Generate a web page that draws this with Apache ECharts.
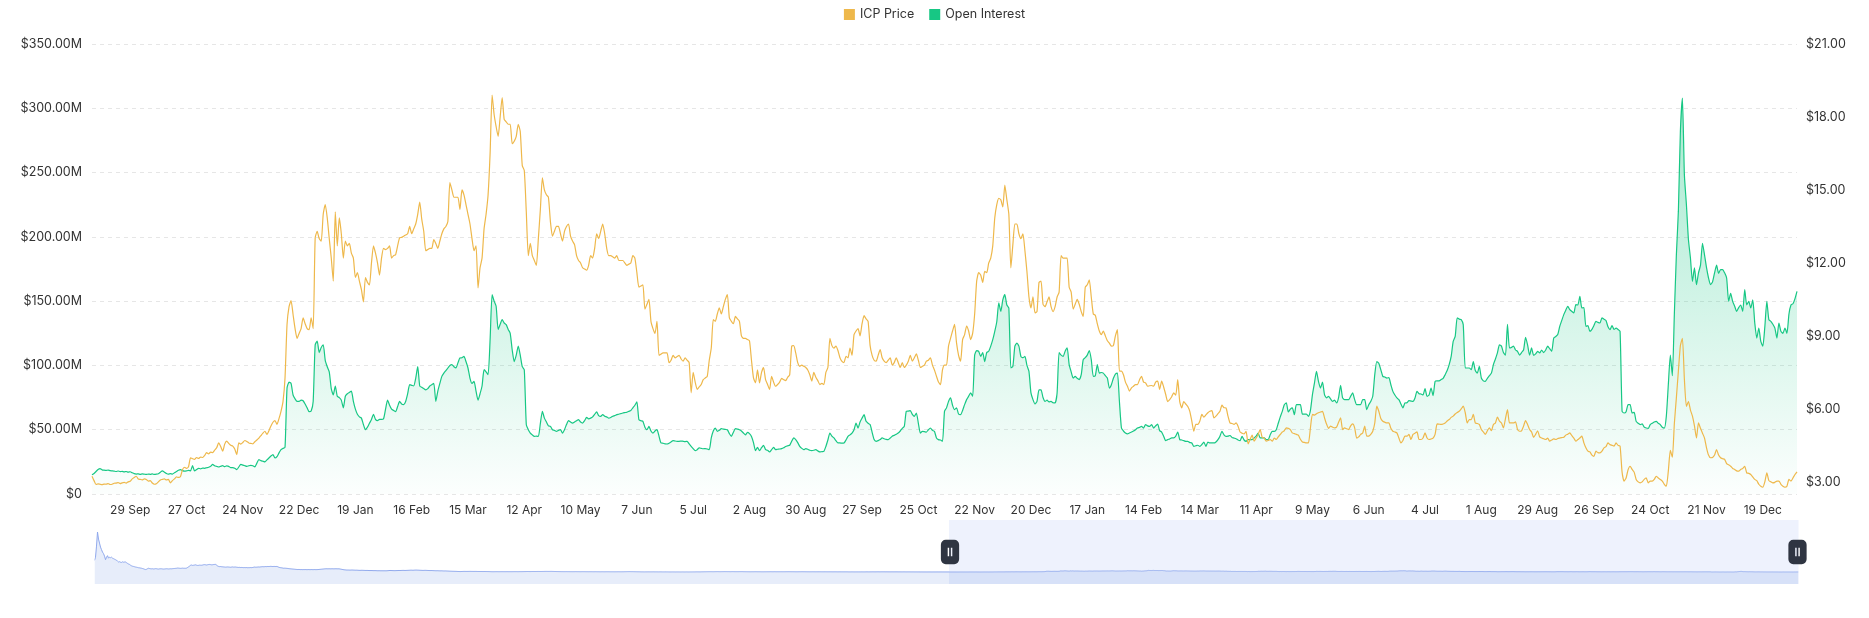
<!DOCTYPE html>
<html><head><meta charset="utf-8">
<script src="https://cdn.jsdelivr.net/npm/echarts@6/dist/echarts.min.js"></script>
<style>html,body{margin:0;padding:0;background:#fff}#c{width:1869px;height:618px}</style>
</head><body><div id="c"></div><script>
const seriesNames = ['ICP Price', 'Open Interest'];
const firstDate = [2021, 4, 10]; // 10 May 2021 (UTC, month 0-based)
const firstLabelDate = '2023-09-29';
const labelStepDays = 28;
const monthNames = ['Jan','Feb','Mar','Apr','May','Jun','Jul','Aug','Sep','Oct','Nov','Dec'];
const leftAxisMax = 350, leftAxisStep = 50;
const rightTickValues = [3, 6, 9, 12, 15, 18, 21];

// ICP price (USD), 10 May 2021 - 9 Sep 2023 (only seen in the zoom slider)
const priceEarly = [
118,150,260,400,330,290,250,225,200,185,
160,125,150,165,140,150,145,150,140,135,
130,125,120,110,102,105,100,98,104,100,
102,102,95,88,82,78,70,64,60,58,
55,52,50,48,45,44,42,40,37,34,
30,27,30,36,40,37,35,34,35,33,
34,36,35,33,32,34,35,34.5,33,32,
33,34,35,34,33,34,35,34.5,36,37,
38,39,40,42,41,40,39,40,41,40,
40,40,42,48,55,62,70,72,68,70,
72,74,70,68,69,71,70,70,72,75,
76,74,72,75,77,78,76,74,75,77,
78,78,70,62,58,56,57,55,54,53,
52,51,52,53,52,51,50,52,53,51,
52,52,50,49,48,49,47,48,47,46,
47,46,47,45,46,46,47,46,48,50,
52,50,51,52,53,52,54,55,56,55,
56,57,56,58,57,58,59,58,57,58,
58,57,58,55,50,47,45,44,42,40,
41,40,39,38,36,35,34,33,32,31,
30,29,28,27,28,27,26.5,27,26,27,
26.5,27,26,26.5,27,26,26.5,27,26,26.5,
27,26,26.5,27,28,29,30,31,32,33,
34,34.5,35,34,35,34.5,34,35,34.5,34,
34.5,35,34.5,34,34.5,33,31,29,27,25,
24,23,22,22.5,22,21.5,22,22.5,22,21.5,
21,20.5,21,20,19.5,19,19.5,20,19.5,19,
18.5,18,18.5,18,17.5,17,17.5,17,16.5,16,
16.5,16,15.5,15,15.5,15,14.8,15,14.6,14.8,
14.6,14.6,15,16,17,18,17.5,17,16.5,16,
16,16.5,17,17.5,18,17.5,18,18.5,19,18.5,
18,18.5,19,19.5,20,20.5,21,20.5,20,21,
21.5,22,21.5,21,20.5,20,19.5,19,18.5,19,
19.5,19,18.5,18,17.5,17,17.5,17,16.5,16,
15.5,15,15.5,15,14.5,14,14.5,14,13.5,13,
13.5,13,12.5,12,11.5,11,10.5,10,9.8,9.5,
9.2,9.0,8.5,8.0,7.5,7.0,7.5,8.0,8.5,8.8,
8.6,8.4,8.5,8.6,8.8,9.0,8.8,8.6,8.4,8.5,
8.6,8.4,8.2,8.0,7.9,7.8,7.6,7.5,7.4,7.6,
7.5,7.4,7.2,7.0,6.8,6.2,5.8,5.6,5.5,5.6,
5.8,6.0,5.9,5.8,5.7,5.8,5.9,6.0,5.9,5.8,
5.9,6.0,6.1,6.0,5.9,5.8,5.9,6.0,6.1,6.2,
6.3,6.2,6.1,6.0,6.2,6.4,6.5,6.6,6.8,7.0,
7.2,7.4,7.6,7.5,7.3,7.2,7.4,7.6,7.8,7.7,
7.6,7.8,8.0,8.1,8.0,7.9,7.8,8.0,8.2,8.4,
8.6,8.8,8.6,8.4,8.6,8.8,8.7,8.5,8.3,8.0,
7.8,7.4,7.2,7.0,6.8,6.6,6.5,6.4,6.3,6.2,
6.3,6.4,6.3,6.2,6.1,6.0,5.9,5.8,5.9,6.0,
6.2,6.1,6.0,5.9,5.8,5.7,5.8,5.9,6.0,5.9,
5.8,5.7,5.6,5.5,5.6,5.7,5.6,5.5,5.4,5.5,
5.6,5.5,5.4,5.3,5.2,5.1,5.2,5.3,5.2,5.1,
5.2,5.3,5.4,5.3,5.2,5.1,5.0,5.1,5.0,4.9,
5.0,5.1,5.2,5.3,5.2,5.1,5.0,5.2,5.4,5.6,
5.8,6.0,6.2,6.4,6.6,6.5,6.3,6.2,6.0,5.8,
5.6,5.4,5.2,5.0,4.8,4.5,4.3,4.2,4.1,4.0,
4.1,4.2,4.3,4.4,4.3,4.2,4.3,4.4,4.5,4.4,
4.3,4.2,4.1,4.0,4.1,4.2,4.1,4.0,3.9,4.0,
4.1,4.0,3.9,3.8,3.7,3.6,3.7,3.8,3.7,3.6,
3.5,3.6,3.7,3.6,3.5,3.4,3.5,3.6,3.5,3.4,
3.5,3.6,3.5,3.4,3.5,3.6,3.7,3.8,3.9,4.0,
4.1,4.2,4.3,4.2,4.1,4.3,4.5,4.8,5.0,5.2,
5.4,5.5,5.6,5.8,5.9,6.0,5.8,5.6,5.7,5.9,
6.1,6.3,6.4,6.2,6.0,5.9,6.1,6.3,6.5,6.6,
6.5,6.4,6.3,6.2,6.1,6.0,6.2,6.4,6.3,6.1,
6.0,5.9,6.0,6.1,6.3,6.5,6.4,6.2,6.0,5.8,
5.6,5.5,5.4,5.3,5.2,5.1,5.2,5.3,5.4,5.5,
5.6,5.5,5.4,5.3,5.2,5.0,4.9,4.8,4.9,5.0,
5.1,5.2,5.3,5.4,5.5,5.6,5.5,5.4,5.5,5.6,
5.5,5.4,5.3,5.2,5.3,5.4,5.3,5.2,5.3,5.4,
5.5,5.6,5.7,5.8,5.7,5.6,5.5,5.4,5.3,5.2,
5.1,5.0,5.1,5.2,5.3,5.4,5.5,5.6,5.5,5.4,
5.2,5.0,4.9,4.8,4.7,4.8,4.9,5.0,4.9,4.8,
4.7,4.8,4.9,5.0,4.9,4.8,4.7,4.6,4.7,4.8,
4.7,4.6,4.5,4.6,4.7,4.6,4.5,4.4,4.5,4.6,
4.5,4.4,4.3,4.4,4.5,4.4,4.3,4.2,4.3,4.4,
4.3,4.2,4.1,4.0,3.9,4.0,4.1,4.0,3.9,3.8,
3.9,4.0,3.9,3.8,3.9,4.0,4.1,4.0,3.9,4.0,
4.1,4.2,4.1,4.0,4.1,4.2,4.3,4.4,4.3,4.2,
4.3,4.4,4.5,4.4,4.3,4.4,4.5,4.6,4.5,4.4,
4.3,4.4,4.3,4.2,4.1,4.2,4.3,4.2,4.1,4.2,
4.3,4.2,4.1,4.0,4.1,4.0,3.9,4.0,4.1,4.0,
3.9,3.8,3.9,4.0,3.9,3.8,3.7,3.8,3.7,3.6,
3.7,3.6,3.5,3.6,3.5,3.4,3.5,3.4,3.3,3.4,
3.3,3.2,3.3,3.4,3.3,3.2,3.1,3.2,3.3,3.2,
3.3,3.4,3.3,3.2,3.3,3.4,3.3,3.2,3.3,3.2,
3.3,3.2,3.25
];

// ICP price (USD), 10 Sep 2023 - 5 Jan 2026 (main view)
const priceRecent = [
3.23,3.05,2.89,2.92,2.90,2.88,2.91,2.90,2.93,2.89,
2.90,2.94,2.95,2.97,2.93,2.96,2.98,2.95,3.00,3.02,
3.12,3.18,3.23,3.12,3.10,3.08,3.12,3.10,3.03,3.05,
2.95,2.90,2.92,3.00,3.08,3.10,3.12,3.08,3.10,2.96,
3.05,3.12,3.20,3.18,3.22,3.50,3.60,3.55,3.62,3.99,
3.95,3.92,4.00,3.96,4.02,4.00,4.08,4.20,4.15,4.22,
4.20,4.30,4.40,4.60,4.45,4.26,4.55,4.67,4.58,4.50,
4.47,4.35,4.12,4.60,4.55,4.62,4.70,4.66,4.60,4.58,
4.56,4.65,4.72,4.80,4.90,5.00,5.08,4.95,5.10,5.30,
5.45,5.52,5.36,5.60,5.90,6.30,7.27,9.47,10.20,10.45,
9.88,9.30,8.90,9.10,9.30,9.74,9.50,9.30,9.26,9.74,
9.30,13.03,13.30,13.00,12.90,14.00,14.40,13.85,13.00,12.20,
11.25,14.10,12.70,13.85,13.20,12.20,12.90,12.70,12.80,12.40,
12.20,11.40,11.60,11.25,10.90,10.40,11.40,11.20,11.10,12.00,
12.70,12.40,12.00,11.50,12.20,12.60,12.55,12.60,12.70,12.20,
12.30,12.34,12.70,13.03,13.05,13.10,13.15,13.20,13.50,13.20,
13.40,13.60,14.00,14.50,13.80,13.30,12.50,12.55,12.60,12.60,
12.96,12.80,12.60,12.90,13.20,13.40,13.50,13.70,15.30,15.00,
14.70,14.70,14.70,14.20,15.00,14.80,14.40,14.00,13.60,13.00,
12.50,12.70,10.97,11.80,12.20,13.40,14.00,14.80,16.50,18.90,
18.10,17.60,17.20,18.00,18.80,17.90,17.80,17.70,17.70,16.90,
17.00,17.20,17.70,17.40,16.00,15.80,14.10,12.30,12.80,12.30,
12.10,11.90,13.00,14.20,15.50,15.00,14.80,14.70,13.70,13.10,
13.30,13.50,13.50,13.20,12.90,13.30,13.50,13.60,13.10,12.90,
12.75,12.30,12.10,12.00,11.80,11.75,11.70,11.90,12.30,12.20,
12.60,13.20,13.00,13.30,13.60,13.20,12.60,12.30,12.30,12.25,
12.20,12.30,12.10,12.10,12.10,12.00,11.90,11.95,12.00,12.30,
12.20,11.60,11.00,11.05,11.10,10.10,10.30,10.50,9.60,9.30,
9.10,9.60,8.20,8.25,8.30,8.30,8.30,7.90,8.00,8.20,
8.10,8.15,8.20,8.05,7.96,8.10,8.00,7.90,6.66,7.50,
7.10,6.80,6.90,7.00,7.20,7.27,7.34,8.00,8.50,9.67,
9.60,9.90,10.15,9.90,10.20,10.50,10.70,9.74,9.60,9.50,
9.80,9.70,9.60,9.00,8.90,8.90,8.85,8.80,8.00,7.27,
7.07,7.60,7.07,7.50,7.70,7.20,7.00,6.80,7.34,7.10,
6.93,7.00,7.10,7.25,7.20,7.16,7.30,7.40,8.58,8.60,
8.30,7.90,7.75,7.80,7.75,7.70,7.60,7.40,7.14,7.50,
7.30,7.16,7.00,7.05,7.00,7.50,7.70,8.90,8.60,8.50,
8.58,8.40,8.10,7.95,7.90,8.16,8.10,8.50,8.20,9.05,
9.20,9.30,9.00,9.50,9.83,9.70,9.60,8.60,8.20,8.00,
7.96,8.20,8.44,8.10,7.96,7.90,8.00,8.10,7.80,7.90,
8.10,7.90,7.70,7.90,7.70,7.80,7.96,8.20,7.96,8.10,
8.26,8.00,7.70,7.75,7.80,7.96,8.00,8.10,7.80,7.60,
7.34,7.10,7.00,7.60,7.80,7.80,8.58,8.90,9.20,9.47,
8.70,8.20,7.96,8.85,9.05,9.40,9.20,8.85,9.10,9.90,
11.25,11.60,11.50,11.20,11.65,11.60,12.00,12.20,12.70,13.85,
14.40,14.65,14.60,14.30,15.20,14.60,14.00,11.80,12.75,13.60,
13.60,13.20,13.00,13.20,12.50,11.65,10.60,10.15,10.60,9.95,
10.00,11.20,11.25,10.30,10.20,10.40,10.60,10.20,10.00,10.20,
10.60,10.80,12.30,12.20,12.20,12.20,11.00,10.80,10.10,10.30,
10.50,10.30,10.00,9.80,11.00,11.10,11.30,10.60,9.90,9.85,
9.50,9.20,9.05,9.20,9.00,8.80,8.70,8.58,8.60,9.00,
9.26,7.55,7.55,7.40,7.10,6.93,6.73,6.86,6.93,7.00,
7.00,7.20,7.34,7.10,7.07,6.93,6.95,6.96,6.93,7.10,
7.14,6.80,7.14,6.90,6.60,6.30,6.38,6.50,6.66,6.56,
7.20,6.30,6.04,6.30,6.20,6.10,5.90,5.50,5.08,5.36,
5.36,5.50,5.77,5.66,5.75,5.84,5.90,5.93,5.63,5.70,
5.80,5.90,6.15,6.05,6.04,5.70,5.42,5.40,5.36,5.42,
5.29,5.05,5.00,4.97,5.08,4.56,4.74,4.92,4.67,4.80,
4.95,5.15,4.83,4.80,4.67,4.70,4.74,4.67,4.80,4.74,
4.85,4.95,5.05,5.10,5.22,5.20,5.15,5.01,4.98,4.95,
4.92,4.75,4.64,4.62,4.60,4.60,5.22,5.77,5.74,5.80,
5.84,5.87,5.90,5.63,5.38,5.20,5.29,5.25,5.22,5.25,
5.45,5.63,5.15,5.22,5.18,5.15,5.30,5.38,5.22,4.80,
4.85,4.95,5.01,5.29,4.88,4.88,4.95,5.08,5.42,6.11,
5.90,5.60,5.49,5.45,5.42,5.42,5.20,5.08,5.05,5.01,
4.80,4.60,4.70,4.88,4.88,4.95,4.74,4.95,5.00,5.05,
4.74,4.74,4.80,5.01,4.80,4.74,4.76,4.80,4.95,5.38,
5.37,5.36,5.38,5.42,5.50,5.56,5.65,5.70,5.79,5.85,
5.90,6.00,6.11,5.84,5.42,5.56,5.56,5.77,5.42,5.40,
5.36,5.15,5.05,4.95,5.10,5.22,5.10,5.36,5.42,5.66,
5.50,5.42,5.22,5.60,5.97,5.42,5.42,5.42,5.47,5.15,
5.08,5.10,5.29,5.52,5.36,5.15,5.05,4.83,4.95,5.10,
4.85,4.80,4.77,4.74,4.80,4.67,4.72,4.77,4.74,4.78,
4.80,4.82,4.83,4.92,4.96,5.01,4.90,4.80,4.67,4.74,
4.80,4.88,4.60,4.40,4.26,4.23,4.10,4.05,4.26,4.20,
4.19,4.26,4.40,4.45,4.60,4.53,4.50,4.47,4.60,4.50,
4.47,3.40,3.03,3.16,3.50,3.64,3.51,3.40,3.10,3.00,
2.96,3.00,3.10,3.16,2.96,3.03,3.03,3.10,3.23,3.16,
3.10,3.03,2.90,2.82,3.44,4.29,4.01,5.40,6.45,7.55,
8.60,8.90,7.20,6.10,6.30,5.95,5.70,5.30,4.80,5.42,
5.20,5.00,4.80,4.40,4.10,3.99,4.00,4.10,4.33,4.10,
3.99,3.95,3.92,3.75,3.70,3.64,3.55,3.51,3.45,3.44,
3.51,3.55,3.64,3.37,3.35,3.30,3.20,3.10,3.05,2.90,
2.82,2.78,3.00,3.37,3.05,3.00,2.96,2.98,3.03,3.03,
2.90,2.82,2.78,2.82,3.10,3.03,3.16,3.30,3.41
];

// Open interest (USD millions), 10 Sep 2023 - 5 Jan 2026
const openInterestRecent = [
15.0,16.0,17.5,19.0,19.7,18.8,18.5,18.3,18.6,18.2,
18.0,17.8,17.5,17.9,17.4,17.6,17.2,17.5,17.0,17.3,
16.5,15.8,15.5,15.7,15.3,15.6,15.4,15.2,15.5,15.3,
15.6,15.2,15.4,15.8,17.0,18.0,17.0,16.0,15.5,15.8,
15.5,16.5,17.5,18.5,19.0,18.2,17.8,18.0,18.3,18.0,
22.0,18.0,19.0,20.0,19.6,20.2,20.0,20.4,20.8,21.5,
23.0,22.0,21.5,21.0,21.5,22.0,21.3,21.8,21.5,20.5,
20.5,20.0,19.0,21.0,23.0,22.5,22.0,21.5,22.0,22.3,
22.0,21.0,24.0,26.7,26.0,25.5,25.0,26.5,28.0,29.5,
30.6,28.0,29.0,32.0,34.5,35.5,36.3,82.4,87.0,86.0,
77.0,74.0,72.0,72.0,73.0,72.5,70.0,67.0,64.0,64.5,
72.0,116.0,119.0,110.0,114.0,116.0,104.0,99.0,95.0,82.0,
77.0,84.0,76.0,75.0,73.0,67.0,76.0,78.0,79.0,80.0,
72.0,66.0,62.0,60.0,59.0,54.0,50.0,52.0,55.0,58.0,
62.0,58.0,57.0,58.0,58.0,58.5,66.0,73.0,69.0,66.0,
65.0,64.0,68.0,72.0,70.0,69.5,72.0,78.0,85.0,84.5,
84.0,90.0,99.0,84.0,83.0,82.0,81.0,82.0,84.0,85.0,
86.0,72.0,80.0,86.0,91.5,94.0,96.0,98.0,100.0,100.6,
99.0,98.0,102.0,105.8,106.0,107.0,103.0,98.0,90.0,86.0,
87.6,80.0,73.0,78.0,84.0,96.7,95.0,92.8,120.0,155.0,
150.0,146.0,128.0,132.0,135.6,133.0,131.7,128.0,125.0,112.0,
103.0,108.0,115.0,108.0,99.0,96.7,54.0,50.0,47.4,46.0,
44.8,45.0,44.8,55.0,64.3,59.0,56.0,53.0,52.6,50.0,
49.5,48.7,49.5,50.0,47.4,50.0,54.0,57.0,56.0,55.2,
56.0,57.0,57.8,56.0,55.2,57.0,59.6,58.5,59.0,60.0,
62.0,63.8,61.0,60.4,61.7,60.5,60.0,59.0,59.5,60.5,
61.0,61.7,62.0,62.5,63.0,63.3,63.6,64.3,65.0,67.0,
69.0,71.6,57.8,57.0,56.5,52.0,50.0,52.6,49.0,47.4,
49.0,50.0,45.0,39.7,39.5,39.0,38.9,39.5,40.5,41.5,
41.2,41.0,41.0,41.2,41.0,40.8,41.0,38.9,37.0,35.3,
33.7,34.5,35.8,35.5,35.2,35.3,35.0,34.5,43.6,49.0,
51.3,48.7,49.5,50.8,50.5,50.2,50.0,47.0,44.8,48.0,
50.8,50.5,50.0,49.0,47.4,46.0,48.0,47.0,44.8,40.0,
33.7,36.3,33.7,36.0,37.9,34.5,34.0,32.7,34.5,36.3,
34.5,34.8,35.0,35.3,36.0,37.0,37.5,37.9,41.0,43.6,
42.3,40.0,37.0,35.5,34.5,35.3,34.8,34.0,33.7,34.0,
34.5,33.5,32.7,33.0,33.2,37.0,42.0,47.4,45.0,43.6,
41.5,39.7,39.7,39.5,39.7,42.0,44.8,46.0,47.4,50.0,
55.2,51.3,56.0,59.0,61.7,56.5,55.0,54.0,48.0,42.3,
41.0,41.5,42.3,43.6,43.0,42.5,42.3,43.5,45.0,45.6,
46.5,47.4,49.0,51.0,52.6,64.3,64.5,64.8,62.0,60.4,
63.0,55.0,47.4,48.7,48.5,48.2,50.0,51.3,49.5,48.7,
43.6,42.3,42.0,41.0,64.3,67.0,72.0,74.7,69.0,65.6,
67.0,62.2,61.7,65.0,69.5,73.4,76.0,78.6,76.0,108.0,
111.5,111.0,107.0,110.0,103.0,110.0,111.0,115.0,120.0,126.5,
134.0,148.6,142.0,151.0,155.0,147.0,144.7,98.0,99.3,115.0,
117.4,115.0,107.0,106.0,107.0,100.0,95.4,78.6,73.4,70.0,
72.0,81.0,81.0,75.0,72.0,73.0,71.6,72.0,71.0,70.8,
78.6,110.0,108.0,107.0,111.0,113.6,100.6,95.0,90.2,91.5,
90.0,89.0,92.8,104.5,106.0,108.0,111.5,104.5,91.5,92.0,
100.6,94.0,94.5,94.0,92.0,90.2,82.4,85.0,90.0,93.3,
94.0,72.0,51.3,49.0,47.4,46.7,47.5,48.2,49.0,50.0,
51.3,51.8,52.6,51.3,54.0,53.0,52.6,54.0,51.3,53.0,
54.4,49.3,48.2,45.0,41.5,42.3,42.8,43.6,43.6,45.0,
48.2,42.3,42.0,41.5,41.0,41.0,40.0,39.7,37.0,37.5,
37.9,37.0,38.5,40.4,37.0,40.4,39.7,39.7,39.7,40.5,
42.3,45.0,48.7,46.0,44.8,45.0,45.5,44.0,43.5,43.0,
42.0,41.5,44.8,42.0,41.0,42.3,42.3,42.3,43.6,45.0,
47.4,43.6,43.6,43.6,42.3,42.3,46.1,48.7,48.7,50.0,
55.0,60.0,64.3,69.5,70.8,63.8,66.0,67.0,61.7,69.5,
69.5,69.5,62.2,62.2,62.2,60.4,65.0,77.3,86.3,95.4,
87.6,82.4,87.0,77.3,74.7,76.0,74.0,72.0,73.0,70.8,
75.0,84.5,74.7,73.4,73.4,73.4,76.0,78.6,73.4,69.5,
69.5,69.5,73.4,73.4,65.6,69.5,72.0,76.0,92.8,103.0,
101.7,96.7,91.5,91.0,90.2,90.5,85.0,79.8,77.0,74.7,
73.4,70.0,67.0,70.8,71.0,72.6,72.3,72.0,74.7,79.8,
78.0,77.8,77.0,82.0,76.0,77.0,82.4,76.5,87.6,88.0,
88.0,89.0,90.0,92.8,96.0,100.6,107.0,118.7,122.6,137.0,
136.0,135.6,131.7,98.0,98.0,98.0,96.7,103.0,96.0,94.0,
99.3,90.2,88.0,87.6,90.0,92.0,94.0,100.6,105.0,109.7,
116.0,115.0,110.0,108.0,132.0,113.6,114.0,115.0,112.0,111.0,
108.0,110.0,112.0,121.9,116.0,108.0,113.6,107.9,109.0,111.0,
109.7,112.0,110.0,112.0,115.0,113.0,111.0,121.3,122.5,124.0,
130.4,135.0,139.5,143.0,146.0,143.4,142.0,140.8,147.3,147.0,
153.7,144.7,145.0,130.4,131.0,126.5,128.0,131.0,134.3,133.5,
133.0,137.0,136.0,135.0,130.0,127.8,131.0,128.0,129.0,128.0,
126.5,64.3,63.0,64.0,69.5,69.5,63.0,63.5,56.5,55.0,
54.0,54.5,52.0,51.3,51.0,54.0,55.0,56.0,56.5,55.0,
54.0,51.9,51.3,60.4,85.0,108.0,92.0,140.0,186.0,220.0,
282.0,308.0,248.0,225.0,198.0,183.6,165.4,175.8,162.8,172.0,
178.0,195.0,186.0,176.0,168.0,162.8,165.0,172.0,178.0,171.7,
174.5,174.5,172.0,168.0,149.8,156.0,149.8,146.0,142.0,145.0,
147.0,142.0,159.0,147.0,149.8,144.7,151.0,133.0,121.3,129.0,
118.7,115.0,130.0,149.8,135.6,134.3,132.0,129.0,121.3,133.0,
126.5,125.0,129.0,125.0,140.0,147.0,148.0,152.0,157.6
];

// ---- build ----
const price = priceEarly.concat(priceRecent);
const openInterest = new Array(priceEarly.length).fill(null).concat(openInterestRecent);
const N = price.length;
const t0 = Date.UTC(firstDate[0], firstDate[1], firstDate[2]);
const categories = [];
for (let i = 0; i < N; i++) categories.push(new Date(t0 + i * 86400000).toISOString().slice(0, 10));
const firstLabelIdx = categories.indexOf(firstLabelDate);
const fmtDate = v => { const p = v.split('-'); return (+p[2]) + ' ' + monthNames[+p[1] - 1]; };
const fontFamily = 'Inter, "Noto Sans", sans-serif';
const green = '#17C784', yellow = '#EEB84B';

const chart = echarts.init(document.getElementById('c'), null, { renderer: 'canvas' });
chart.setOption({
  animation: false,
  backgroundColor: '#ffffff',
  textStyle: { fontFamily },
  legend: {
    data: seriesNames, top: 3, left: 'center', icon: 'rect',
    itemWidth: 11, itemHeight: 11, itemGap: 15,
    textStyle: { fontFamily, fontSize: 12.5, color: '#333' }
  },
  grid: { left: 92, right: 72, top: 44, bottom: 124, outerBoundsMode: 'none' },
  xAxis: {
    type: 'category', data: categories, boundaryGap: false,
    axisLine: { show: false }, axisTick: { show: false },
    axisLabel: {
      fontFamily, fontSize: 12, color: '#333', margin: 10,
      interval: (idx) => idx >= firstLabelIdx && (idx - firstLabelIdx) % labelStepDays === 0,
      formatter: fmtDate
    },
    splitLine: { show: false }
  },
  yAxis: [
    {
      type: 'value', min: 0, max: leftAxisMax, interval: leftAxisStep, position: 'left',
      axisLine: { show: false }, axisTick: { show: false },
      axisLabel: { fontFamily, fontSize: 12.5, color: '#333', margin: 10,
        formatter: v => v === 0 ? '$0' : '$' + v.toFixed(2) + 'M' },
      splitLine: { show: true, lineStyle: { color: '#e6e6e6', type: [4, 4], width: 1 } }
    },
    {
      type: 'value', min: 2.5, max: 21, interval: 0.5, position: 'right',
      axisLine: { show: false }, axisTick: { show: false },
      axisLabel: { fontFamily, fontSize: 12.5, color: '#333', margin: 9,
        formatter: v => rightTickValues.indexOf(Math.round(v * 100) / 100) >= 0 ? '$' + v.toFixed(2) : '' },
      splitLine: { show: false }
    }
  ],
  dataZoom: [{
    type: 'slider', xAxisIndex: 0, startValue: priceEarly.length, endValue: N - 1,
    left: 92, right: 73, top: 520, height: 64,
    backgroundColor: 'rgba(0,0,0,0)', borderColor: 'rgba(0,0,0,0)',
    fillerColor: 'rgba(135,165,240,0.14)',
    showDetail: false, brushSelect: false, moveHandleSize: 0,
    dataBackground: { lineStyle: { color: '#8fa8ec', width: 1, opacity: 1 }, areaStyle: { color: '#e7edfa', opacity: 1 } },
    selectedDataBackground: { lineStyle: { color: '#9cb2ee', width: 1, opacity: 1 }, areaStyle: { color: '#e5ecfa', opacity: 1 } },
    handleIcon: 'path://M4,0 H11 A4,4 0 0 1 15,4 V16 A4,4 0 0 1 11,20 H4 A4,4 0 0 1 0,16 V4 A4,4 0 0 1 4,0 Z M5.6,6.5 V13.5 H6.8 V6.5 Z M8.2,6.5 V13.5 H9.4 V6.5 Z',
    handleSize: '38%',
    handleStyle: { color: '#2f3542', borderColor: '#2f3542', borderWidth: 0 },
    emphasis: { handleStyle: { color: '#2f3542', borderColor: '#2f3542' } }
  }],
  series: [
    {
      name: seriesNames[0], type: 'line', yAxisIndex: 1, data: price,
      showSymbol: false, symbol: 'none', smooth: 0.2, z: 4,
      lineStyle: { color: yellow, width: 1.2 }, itemStyle: { color: yellow }
    },
    {
      name: seriesNames[1], type: 'line', yAxisIndex: 0, data: openInterest,
      showSymbol: false, symbol: 'none', smooth: 0.2, z: 3,
      lineStyle: { color: green, width: 1.2 }, itemStyle: { color: green },
      areaStyle: { color: new echarts.graphic.LinearGradient(0, 0, 0, 1, [
        { offset: 0, color: 'rgba(23,199,132,0.55)' },
        { offset: 1, color: 'rgba(23,199,132,0.02)' }
      ]) }
    }
  ]
});
</script></body></html>
